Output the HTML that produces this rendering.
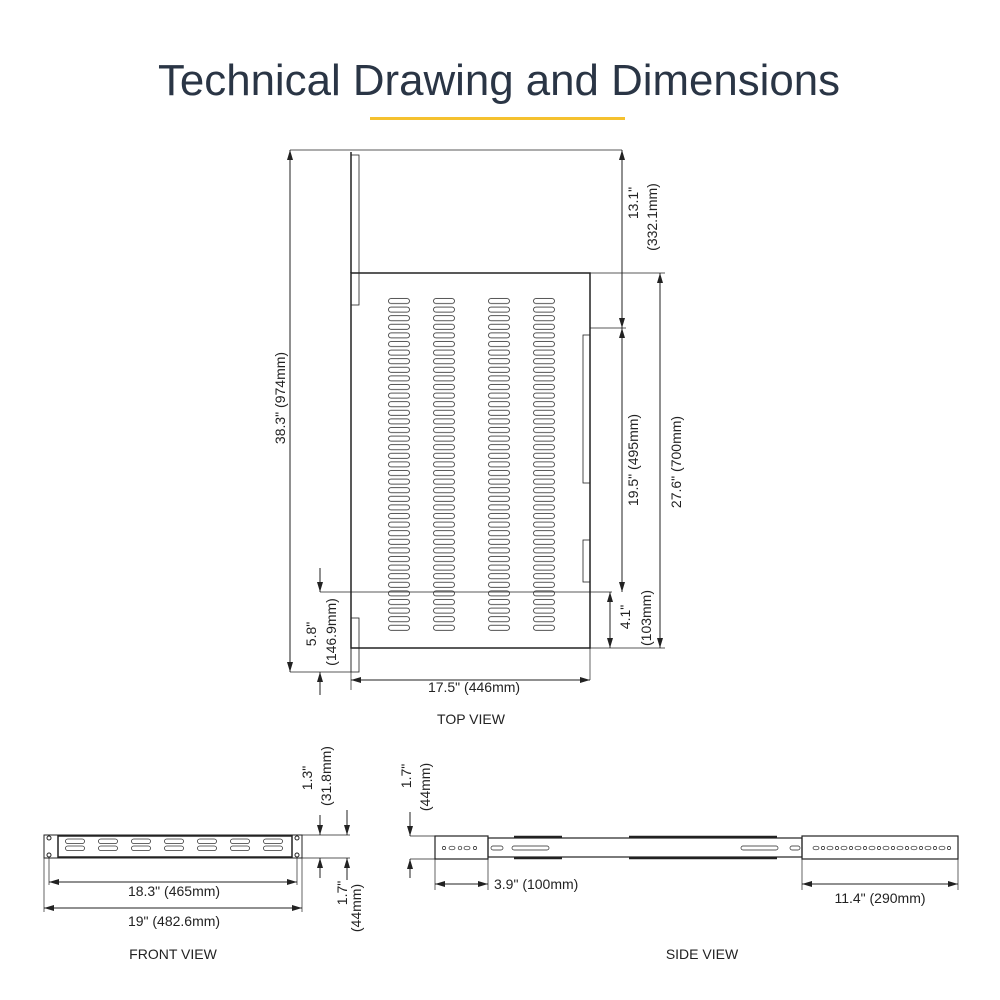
<!DOCTYPE html>
<html><head><meta charset="utf-8"><style>
html,body{margin:0;padding:0;background:#fff}
svg{display:block}
text{font-family:"Liberation Sans",sans-serif;fill:#222}
</style></head><body>
<svg width="1000" height="1000" viewBox="0 0 1000 1000" xmlns="http://www.w3.org/2000/svg">
<defs>
<marker id="a" viewBox="0 0 10 6" refX="10" refY="3" markerWidth="10" markerHeight="6" orient="auto-start-reverse" markerUnits="userSpaceOnUse"><path d="M0,0 L10,3 L0,6 Z" fill="#222"/></marker>
<pattern id="ts1" patternUnits="userSpaceOnUse" x="388" y="297" width="45" height="8.6"><rect x="0.5" y="1.5" width="21" height="5" rx="2.5" fill="none" stroke="#333" stroke-width="0.8"/></pattern>
<pattern id="ts2" patternUnits="userSpaceOnUse" x="488" y="297" width="45" height="8.6"><rect x="0.5" y="1.5" width="21" height="5" rx="2.5" fill="none" stroke="#333" stroke-width="0.8"/></pattern>
<pattern id="fs" patternUnits="userSpaceOnUse" x="65" y="838" width="33" height="7"><rect x="0.5" y="1" width="19" height="4.5" rx="2.2" fill="none" stroke="#333" stroke-width="0.8"/></pattern>
</defs>
<text x="158" y="95" font-size="44" textLength="682" lengthAdjust="spacingAndGlyphs" style="fill:#2a3545">Technical Drawing and Dimensions</text>
<rect x="370" y="117" width="255" height="3" fill="#f5c12e"/>

<g stroke="#222" stroke-width="1" fill="none">
<line x1="290" y1="150" x2="622" y2="150" stroke-width="0.7"/>
<rect x="351" y="273" width="239" height="375" stroke-width="1.5"/>
<line x1="351" y1="152" x2="351" y2="273" stroke-width="1.5"/>
<rect x="351" y="155" width="8" height="150" stroke-width="0.8"/>
<rect x="351" y="618" width="8" height="54" stroke-width="0.8"/>
<rect x="583" y="335" width="7" height="148" stroke-width="0.8"/>
<rect x="583" y="540" width="7" height="42" stroke-width="0.8"/>
<rect x="388" y="297" width="67" height="335.4" fill="url(#ts1)" stroke="none"/>
<rect x="488" y="297" width="67" height="335.4" fill="url(#ts2)" stroke="none"/>
<line x1="590" y1="273" x2="665" y2="273" stroke-width="0.7"/>
<line x1="590" y1="328" x2="626" y2="328" stroke-width="0.7"/>
<line x1="320" y1="592" x2="612" y2="592" stroke-width="0.7"/>
<line x1="590" y1="648" x2="665" y2="648" stroke-width="0.7"/>
<line x1="290" y1="672" x2="351" y2="672" stroke-width="0.7"/>
<line x1="351" y1="648" x2="351" y2="690" stroke-width="0.7"/>
<line x1="590" y1="648" x2="590" y2="680" stroke-width="0.7"/>
<line x1="290" y1="150" x2="290" y2="672" marker-start="url(#a)" marker-end="url(#a)"/>
<line x1="622" y1="150" x2="622" y2="328" marker-start="url(#a)" marker-end="url(#a)"/>
<line x1="622" y1="328" x2="622" y2="592" marker-start="url(#a)" marker-end="url(#a)"/>
<line x1="610" y1="592" x2="610" y2="648" marker-start="url(#a)" marker-end="url(#a)"/>
<line x1="660" y1="273" x2="660" y2="648" marker-start="url(#a)" marker-end="url(#a)"/>
<line x1="320" y1="568" x2="320" y2="592" marker-end="url(#a)"/>
<line x1="320" y1="695" x2="320" y2="672" marker-end="url(#a)"/>
<line x1="351" y1="680" x2="590" y2="680" marker-start="url(#a)" marker-end="url(#a)"/>

<rect x="44" y="835" width="258" height="23" stroke-width="1"/>
<rect x="58" y="836" width="234" height="21" stroke-width="1.5"/>
<rect x="65" y="838" width="231" height="14" fill="url(#fs)" stroke="none"/>
<circle cx="49" cy="838" r="2"/><circle cx="49" cy="855" r="2"/>
<circle cx="297" cy="838" r="2"/><circle cx="297" cy="855" r="2"/>
<line x1="302" y1="835" x2="350" y2="835" stroke-width="0.7"/>
<line x1="302" y1="858" x2="350" y2="858" stroke-width="0.7"/>
<line x1="44" y1="858" x2="44" y2="912" stroke-width="0.7"/>
<line x1="302" y1="858" x2="302" y2="912" stroke-width="0.7"/>
<line x1="49" y1="858" x2="49" y2="885" stroke-width="0.7"/>
<line x1="297" y1="858" x2="297" y2="885" stroke-width="0.7"/>
<line x1="49" y1="882" x2="297" y2="882" marker-start="url(#a)" marker-end="url(#a)"/>
<line x1="44" y1="908" x2="302" y2="908" marker-start="url(#a)" marker-end="url(#a)"/>
<line x1="320" y1="815" x2="320" y2="835" marker-end="url(#a)"/>
<line x1="320" y1="878" x2="320" y2="858" marker-end="url(#a)"/>
<line x1="347" y1="810" x2="347" y2="835" marker-end="url(#a)"/>
<line x1="347" y1="880" x2="347" y2="858" marker-end="url(#a)"/>

<rect x="435" y="836" width="53" height="23" stroke-width="1.2"/>
<rect x="488" y="838" width="314" height="19" stroke-width="1.2"/>
<rect x="802" y="836" width="156" height="23" stroke-width="1.2"/>
<line x1="514" y1="837" x2="562" y2="837" stroke-width="2.5"/>
<line x1="514" y1="858" x2="562" y2="858" stroke-width="2.5"/>
<line x1="629" y1="837" x2="777" y2="837" stroke-width="2.5"/>
<line x1="629" y1="858" x2="777" y2="858" stroke-width="2.5"/>
<rect x="491" y="846" width="12" height="4" rx="2" stroke-width="0.7"/>
<rect x="512" y="846" width="37" height="4" rx="2" stroke-width="0.7"/>
<rect x="741" y="846" width="37" height="4" rx="2" stroke-width="0.7"/>
<rect x="790" y="846" width="10" height="4" rx="2" stroke-width="0.7"/>
<g stroke-width="0.7">
<circle cx="444" cy="848" r="1.6"/><ellipse cx="452" cy="848" rx="3" ry="1.8"/><circle cx="460" cy="848" r="1.8"/><ellipse cx="467" cy="848" rx="3" ry="1.8"/><circle cx="475" cy="848" r="1.6"/>
<ellipse cx="816" cy="848" rx="3" ry="1.8"/><circle cx="823" cy="848" r="1.6"/><ellipse cx="830" cy="848" rx="3" ry="1.8"/><circle cx="837" cy="848" r="1.6"/><ellipse cx="844" cy="848" rx="3" ry="1.8"/><circle cx="851" cy="848" r="1.6"/><ellipse cx="858" cy="848" rx="3" ry="1.8"/><circle cx="865" cy="848" r="1.6"/><ellipse cx="872" cy="848" rx="3" ry="1.8"/><circle cx="879" cy="848" r="1.6"/><ellipse cx="886" cy="848" rx="3" ry="1.8"/><circle cx="893" cy="848" r="1.6"/><ellipse cx="900" cy="848" rx="3" ry="1.8"/><circle cx="907" cy="848" r="1.6"/><ellipse cx="914" cy="848" rx="3" ry="1.8"/><circle cx="921" cy="848" r="1.6"/><ellipse cx="928" cy="848" rx="3" ry="1.8"/><circle cx="935" cy="848" r="1.6"/><ellipse cx="942" cy="848" rx="3" ry="1.8"/><circle cx="949" cy="848" r="1.6"/>
</g>
<line x1="410" y1="836" x2="435" y2="836" stroke-width="0.7"/>
<line x1="410" y1="859" x2="435" y2="859" stroke-width="0.7"/>
<line x1="410" y1="812" x2="410" y2="836" marker-end="url(#a)"/>
<line x1="410" y1="878" x2="410" y2="859" marker-end="url(#a)"/>
<line x1="435" y1="859" x2="435" y2="890" stroke-width="0.7"/>
<line x1="488" y1="859" x2="488" y2="890" stroke-width="0.7"/>
<line x1="435" y1="884" x2="488" y2="884" marker-start="url(#a)" marker-end="url(#a)"/>
<line x1="802" y1="859" x2="802" y2="890" stroke-width="0.7"/>
<line x1="958" y1="859" x2="958" y2="890" stroke-width="0.7"/>
<line x1="802" y1="884" x2="958" y2="884" marker-start="url(#a)" marker-end="url(#a)"/>
</g>

<g font-size="14">
<text transform="translate(285,398) rotate(-90)" text-anchor="middle">38.3" (974mm)</text>
<text transform="translate(638,203) rotate(-90)" text-anchor="middle">13.1"</text>
<text transform="translate(657,217) rotate(-90)" text-anchor="middle">(332.1mm)</text>
<text transform="translate(638,460) rotate(-90)" text-anchor="middle">19.5" (495mm)</text>
<text transform="translate(681,462) rotate(-90)" text-anchor="middle">27.6" (700mm)</text>
<text transform="translate(630,617) rotate(-90)" text-anchor="middle">4.1"</text>
<text transform="translate(651,618) rotate(-90)" text-anchor="middle">(103mm)</text>
<text transform="translate(316,634) rotate(-90)" text-anchor="middle">5.8"</text>
<text transform="translate(336,632) rotate(-90)" text-anchor="middle">(146.9mm)</text>
<text x="474" y="692" text-anchor="middle">17.5" (446mm)</text>
<text x="471" y="724" text-anchor="middle">TOP VIEW</text>
<text transform="translate(312,778) rotate(-90)" text-anchor="middle">1.3"</text>
<text transform="translate(331,776) rotate(-90)" text-anchor="middle">(31.8mm)</text>
<text transform="translate(347,893) rotate(-90)" text-anchor="middle">1.7"</text>
<text transform="translate(361,908) rotate(-90)" text-anchor="middle">(44mm)</text>
<text transform="translate(411,776) rotate(-90)" text-anchor="middle">1.7"</text>
<text transform="translate(430,787) rotate(-90)" text-anchor="middle">(44mm)</text>
<text x="174" y="896" text-anchor="middle">18.3" (465mm)</text>
<text x="174" y="926" text-anchor="middle">19" (482.6mm)</text>
<text x="494" y="889">3.9" (100mm)</text>
<text x="880" y="903" text-anchor="middle">11.4" (290mm)</text>
<text x="173" y="959" text-anchor="middle">FRONT VIEW</text>
<text x="702" y="959" text-anchor="middle">SIDE VIEW</text>
</g>
</svg>
</body></html>
